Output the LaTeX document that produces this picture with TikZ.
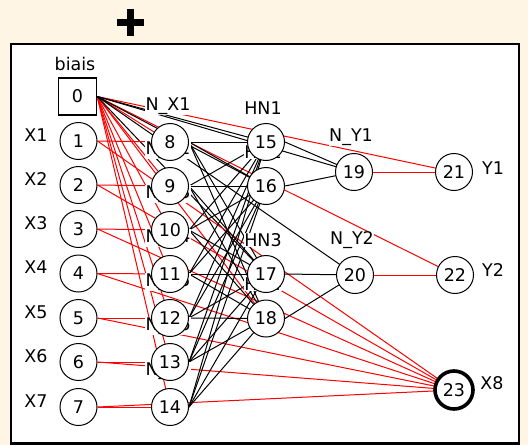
\documentclass[tikz,border=0pt]{standalone}
\usepackage{fontspec}
\setmainfont{DejaVu Sans}
\definecolor{bgcream}{RGB}{254,245,229}
\definecolor{negred}{RGB}{255,0,0}
\pgfdeclarelayer{paper}
\pgfdeclarelayer{wires}
\pgfsetlayers{paper,wires,main}
\begin{document}
\begin{tikzpicture}[x=1pt,y=-1pt,
  lbl/.style={font=\fontsize{17.5}{18}\selectfont},
  unit/.style={circle,draw,fill=white,minimum size=37pt,inner sep=0pt,line width=1pt,lbl},
  biasbox/.style={rectangle,draw,fill=white,minimum width=38pt,minimum height=37pt,inner sep=0pt,line width=1.4pt,lbl},
  outunit/.style={unit,line width=3.6pt,minimum size=38pt},
  tag/.style={lbl,fill=white,inner sep=0.5pt},
  side/.style={lbl,inner sep=0pt},
  wpos/.style={draw=black,line width=1pt},
  wneg/.style={draw=negred,line width=1pt}]

% page and panel
\begin{pgfonlayer}{paper}
\useasboundingbox[fill=bgcream] (0,0) rectangle (528,445);
\draw[line width=2.5pt,fill=white] (11,44) rectangle (519,443.5);
\end{pgfonlayer}
\draw[line width=7.5pt] (117,22.5) -- (144,22.5) (130.5,9) -- (130.5,36);

% unit names (drawn under the units)
\foreach \i/\y in {1/106,2/150,3/194,4/238,5/282,6/326,7/371}{
  \node[tag] (tx\i) at (168,\y) {N\_X\i};}
\foreach \i/\y in {1/108,2/152,3/240,4/284.5}{
  \node[tag] (th\i) at (263,\y) {HN\i};}
\node[tag] (ty1) at (351,137) {N\_Y1};
\node[tag] (ty2) at (352,240) {N\_Y2};
\node[side] (tb) at (75,64) {biais};
\foreach \i/\y in {1/135,2/179,3/223,4/267.5,5/312,6/356,7/401}{
  \node[side] (sx\i) at (36,\y) {X\i};}
\node[side] (sy1) at (493,168) {Y1};
\node[side] (sy2) at (493,270) {Y2};
\node[side] (sx8) at (492,383.5) {X8};

% units
\node[biasbox] (n0) at (77.5,96.5) {0};
\foreach \i/\y in {1/141,2/185,3/229,4/273.5,5/318,6/362,7/407}{
  \node[unit] (n\i) at (78.5,\y) {\i};}
\foreach \i/\y in {8/142,9/186,10/230,11/274,12/318,13/362,14/407}{
  \node[unit] (n\i) at (170,\y) {\i};}
\foreach \i/\y in {15/142,16/186,17/274,18/318.5}{
  \node[unit] (n\i) at (266,\y) {\i};}
\node[unit] (n19) at (354,172) {19};
\node[unit] (n20) at (355,275) {20};
\node[unit] (n21) at (454,172) {21};
\node[unit] (n22) at (455,275) {22};
\node[outunit] (n23) at (454,390) {23};

% weighted connections, from the right side of a unit towards the centre of the next
\begin{pgfonlayer}{wires}
\foreach \j in {8,...,14,18,21,22}{\draw[wneg] (n0.east) -- (n\j.center);}
\foreach \j in {15,16,17,19,20}{\draw[wpos] (n0.east) -- (n\j.center);}
\foreach \i [evaluate=\i as \j using int(\i+7)] in {1,...,7}{
  \draw[wneg] (n\i.east) -- (n\j.center);
  \draw[wneg] (n\i.east) -- (n23.center);}
\foreach \i in {8,...,14}{\foreach \j in {15,...,18}{\draw[wpos] (n\i.east) -- (n\j.center);}}
\draw[wpos] (n15.east) -- (n19.center);
\draw[wpos] (n16.east) -- (n19.center);
\draw[wpos] (n17.east) -- (n20.center);
\draw[wpos] (n18.east) -- (n20.center);
\draw[wneg] (n19.east) -- (n21.center);
\draw[wneg] (n20.east) -- (n22.center);
\end{pgfonlayer}
\end{tikzpicture}
\end{document}
